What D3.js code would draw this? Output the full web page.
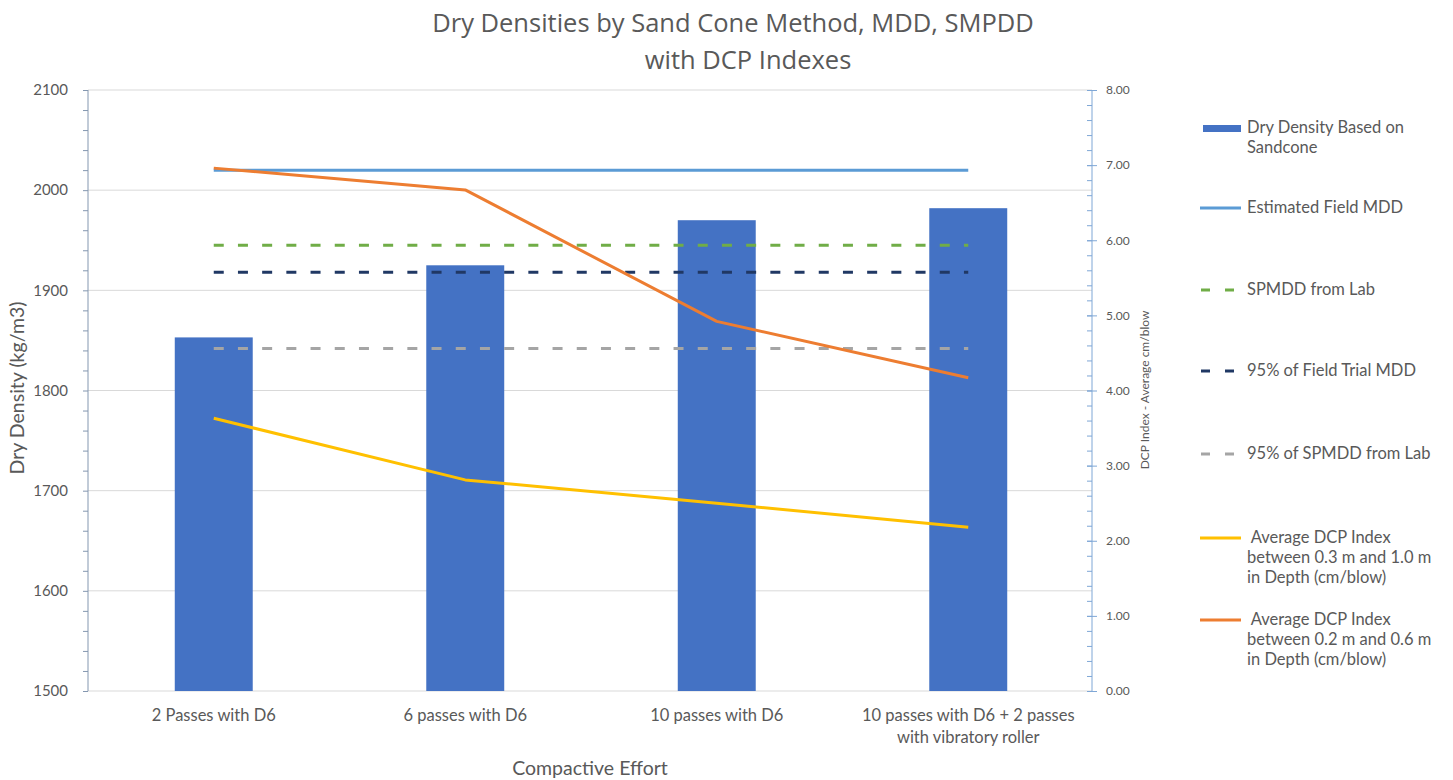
<!DOCTYPE html>
<html>
<head>
<meta charset="utf-8">
<script src="https://cdn.jsdelivr.net/npm/d3@7"></script>
<style>
body { margin: 0; background: #fff; }
text { fill: #595959; }
</style>
</head>
<body>
<div id="chart"></div>
<script>
// data
var categories = ["2 Passes with D6", "6 passes with D6", "10 passes with D6", "10 passes with D6 + 2 passes with vibratory roller"];
var dryDensity = [1853, 1925, 1970, 1982];
var fieldMDD = [2020, 2020, 2020, 2020];
var spmddLab = [1945, 1945, 1945, 1945];
var fieldTrial95 = [1918, 1918, 1918, 1918];
var spmdd95 = [1842, 1842, 1842, 1842];
var dcpDeep = [3.63, 2.81, 2.50, 2.18];
var dcpShallow = [6.96, 6.67, 4.92, 4.17];
var leftTicks = [1500, 1600, 1700, 1800, 1900, 2000, 2100];
var rightTicks = [0, 1, 2, 3, 4, 5, 6, 7, 8];

var W = 1453, H = 780;
var pLeft = 88, pRight = 1092, pTop = 90, pBottom = 691;
var font = "Lato, 'Open Sans', sans-serif";

var svg = d3.select("#chart").append("svg")
  .attr("width", W).attr("height", H)
  .style("font-family", font);

var x = d3.scaleBand().domain(categories).range([pLeft, pRight + 2]);
var y = d3.scaleLinear().domain([1500, 2100]).range([pBottom, pTop]);
var y2 = d3.scaleLinear().domain([0, 8]).range([pBottom, pTop]);
var cx = function(d, i) { return x(categories[i]) + x.bandwidth() / 2; };

// gridlines
svg.append("g").selectAll("line").data(leftTicks.slice(1)).enter().append("line")
  .attr("x1", pLeft).attr("x2", pRight)
  .attr("y1", function(d) { return y(d); }).attr("y2", function(d) { return y(d); })
  .attr("stroke", "#d9d9d9").attr("stroke-width", 1);
svg.append("line").attr("x1", pLeft).attr("x2", pRight).attr("y1", pBottom).attr("y2", pBottom)
  .attr("stroke", "#d9d9d9");

// bars
var bw = x.bandwidth() * 0.31;
svg.append("g").selectAll("rect").data(dryDensity).enter().append("rect")
  .attr("x", function(d, i) { return cx(d, i) - bw / 2; })
  .attr("y", function(d) { return y(d); })
  .attr("width", bw)
  .attr("height", function(d) { return pBottom - y(d); })
  .attr("fill", "#4472c4");

// reference lines + DCP lines
function drawLine(vals, scale, color, dash) {
  var line = d3.line().x(cx).y(function(d) { return scale(d); });
  svg.append("path").datum(vals)
    .attr("d", line)
    .attr("fill", "none")
    .attr("stroke", color)
    .attr("stroke-width", 3)
    .attr("stroke-linejoin", "round")
    .attr("stroke-dasharray", dash || null);
}
drawLine(spmdd95, y, "#a5a5a5", "10,14.2");
drawLine(fieldTrial95, y, "#203864", "10,14.2");
drawLine(spmddLab, y, "#70ad47", "10,14.2");
drawLine(fieldMDD, y, "#5b9bd5");
drawLine(dcpDeep, y2, "#ffc000");
drawLine(dcpShallow, y2, "#ed7d31");

// left axis
var gl = svg.append("g").attr("transform", "translate(" + pLeft + ",0)");
gl.call(d3.axisLeft(y).tickValues(d3.range(1500, 2101, 20)).tickSize(5).tickFormat(""));
gl.selectAll(".domain").remove();
gl.selectAll("line").attr("stroke", "#8497b0");
gl.append("line").attr("y1", pTop).attr("y2", pBottom).attr("stroke", "#8497b0");
var gll = svg.append("g").attr("transform", "translate(" + (pLeft - 20) + ",0)");
gll.call(d3.axisLeft(y).tickValues(leftTicks).tickSize(0).tickFormat(d3.format("d")));
gll.selectAll(".domain").remove();
gll.selectAll("text").attr("x", 0).style("font-size", "15px").style("font-family", font).attr("fill", "#595959");

// right axis
var gr = svg.append("g").attr("transform", "translate(" + pRight + ",0)");
gr.call(d3.axisLeft(y2).tickValues(d3.range(0, 8.01, 0.2)).tickSize(5).tickFormat(""));
gr.selectAll(".domain").remove();
gr.selectAll("line").attr("stroke", "#7fa7d6");
var grm = svg.append("g").attr("transform", "translate(" + (pRight + 5) + ",0)");
grm.call(d3.axisLeft(y2).tickValues(rightTicks).tickSize(10).tickFormat(d3.format(".2f")));
grm.selectAll(".domain").remove();
grm.selectAll("line").attr("stroke", "#7fa7d6");
grm.selectAll("text").attr("x", 9).attr("text-anchor", "start")
  .style("font-size", "12px").style("font-family", font).attr("fill", "#595959");
svg.append("line").attr("x1", pRight).attr("x2", pRight).attr("y1", pTop).attr("y2", pBottom)
  .attr("stroke", "#7fa7d6");

// x labels
var xl = svg.append("g");
var xLines = [["2 Passes with D6"], ["6 passes with D6"], ["10 passes with D6"], ["10 passes with D6 + 2 passes", "with vibratory roller"]];
xLines.forEach(function(ls, i) {
  var t = xl.append("text").attr("x", cx(null, i)).attr("y", 721)
    .attr("text-anchor", "middle").style("font-size", "16.5px");
  ls.forEach(function(s, j) {
    t.append("tspan").attr("x", cx(null, i)).attr("dy", j ? 22 : 0).text(s);
  });
});

// titles
svg.append("text").attr("x", 733).attr("y", 32).attr("text-anchor", "middle")
  .style("font-size", "25.5px").style("font-family", "'Open Sans', sans-serif")
  .text("Dry Densities by Sand Cone Method, MDD, SMPDD");
svg.append("text").attr("x", 748).attr("y", 69).attr("text-anchor", "middle")
  .style("font-size", "25.5px").style("font-family", "'Open Sans', sans-serif")
  .text("with DCP Indexes");
svg.append("text").attr("x", 590).attr("y", 775).attr("text-anchor", "middle")
  .style("font-size", "19.5px").text("Compactive Effort");
svg.append("text").attr("transform", "translate(24,388) rotate(-90)").attr("text-anchor", "middle")
  .style("font-size", "19.5px").text("Dry Density (kg/m3)");
svg.append("text").attr("transform", "translate(1149,390) rotate(-90)").attr("text-anchor", "middle")
  .style("font-size", "12px").text("DCP Index - Average cm/blow");

// legend
var legend = [
  { lines: ["Dry Density Based on", "Sandcone"], y: 128, color: "#4472c4", bar: true },
  { lines: ["Estimated Field MDD"], y: 208, color: "#5b9bd5" },
  { lines: ["SPMDD from Lab"], y: 290, color: "#70ad47", dash: true },
  { lines: ["95% of Field Trial MDD"], y: 371, color: "#203864", dash: true },
  { lines: ["95% of SPMDD from Lab"], y: 454, color: "#a5a5a5", dash: true },
  { lines: [" Average DCP Index", "between 0.3 m and 1.0 m", "in Depth (cm/blow)"], y: 538, color: "#ffc000" },
  { lines: [" Average DCP Index", "between 0.2 m and 0.6 m", "in Depth (cm/blow)"], y: 620, color: "#ed7d31" }
];
var lg = svg.append("g");
legend.forEach(function(d) {
  if (d.bar) {
    lg.append("rect").attr("x", 1203).attr("y", d.y - 3).attr("width", 38).attr("height", 7).attr("fill", d.color);
  } else {
    lg.append("line").attr("x1", d.dash ? 1201 : 1200).attr("x2", 1241).attr("y1", d.y).attr("y2", d.y)
      .attr("stroke", d.color).attr("stroke-width", 3)
      .attr("stroke-dasharray", d.dash ? "9,15" : null);
  }
  var t = lg.append("text").attr("x", 1247).attr("y", d.y + 5).style("font-size", "16.5px")
    .attr("xml:space", "preserve");
  d.lines.forEach(function(s, j) {
    t.append("tspan").attr("x", 1247).attr("dy", j ? 20 : 0).text(s);
  });
});
</script>
</body>
</html>
